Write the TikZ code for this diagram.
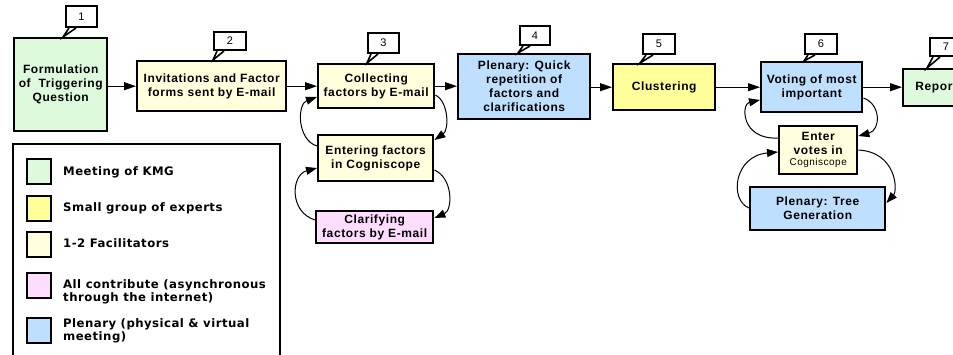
\documentclass[tikz,border=0pt]{standalone}
\usepackage{fontspec}
\setmainfont{Liberation Sans}
\newfontfamily\nfont[LetterSpace=5]{Liberation Sans}
\newfontfamily\legfont[LetterSpace=4]{DejaVu Sans}
\usetikzlibrary{arrows.meta,calc}
\definecolor{kmg}{HTML}{DDFADD}
\definecolor{expert}{HTML}{FFFF99}
\definecolor{facil}{HTML}{FFFFDD}
\definecolor{allc}{HTML}{FFDDFF}
\definecolor{plen}{HTML}{BFDFFF}
\tikzset{
  box/.style={draw, line width=2.4pt, inner sep=0pt, align=center, anchor=north west,
    font=\nfont\fontsize{12}{14}\selectfont\bfseries},
  arr/.style={line width=1pt, -{Triangle[length=12pt,width=8pt]}},
  carr/.style={line width=1pt, -{Triangle[length=11pt,width=8pt]}},
  callbox/.style={draw, fill=white, line width=2pt, inner sep=0pt, anchor=north west,
    font=\fontsize{11}{12}\selectfont},
  swatch/.style={draw, line width=1.6pt, minimum width=24pt, minimum height=25pt, inner sep=0pt, anchor=north west},
  legtext/.style={anchor=west, align=left, inner sep=0pt, font=\legfont\fontsize{11.7}{13.5}\selectfont\bfseries}
}
\newcommand\mycallout[6]{% name, x, y, w, h, num
  \node[callbox, minimum width=#4pt, minimum height=#5pt] (#1) at (#2,#3) {#6};
}
\newcommand\mytail[3]{% callout name, target node, dx
  \coordinate (#1tip) at ($(#2.north west)+(#3,0)$);
  \filldraw[fill=white, line width=1.6pt, line join=miter]
    ($(#1.south west)+(4,0)$) -- (#1tip) -- ($(#1.south west)+(11,0)$);
}
\begin{document}
\begin{tikzpicture}[x=1pt,y=-1pt]
\useasboundingbox (0,0) rectangle (953,354);

% main flow
\node[box, fill=kmg, minimum width=93pt, minimum height=93pt] (n1) at (13,37)
  {Formulation\\of~~Triggering\\Question};
\node[box, fill=facil, minimum width=149pt, minimum height=50pt] (n2) at (136,60)
  {Invitations and Factor\\forms sent by E-mail};
\node[box, fill=facil, minimum width=116pt, minimum height=44pt] (n3) at (317,63)
  {Collecting\\factors by E-mail};
\node[box, fill=plen, minimum width=132pt, minimum height=65pt] (n4) at (457,53)
  {Plenary: Quick\\repetition of\\factors and\\clarifications};
\node[box, fill=expert, minimum width=102pt, minimum height=46pt] (n5) at (612,63)
  {Clustering};
\node[box, fill=plen, minimum width=101pt, minimum height=50pt] (n6) at (760,61)
  {Voting of most\\important};
\node[box, fill=kmg, minimum width=66pt, minimum height=37pt] (n7) at (902,68)
  {Report};

% sub nodes
\node[box, fill=facil, minimum width=115pt, minimum height=46pt] (ent) at (317,134)
  {Entering factors\\in Cogniscope};
\node[box, fill=allc, minimum width=117pt, minimum height=32pt] (cla) at (315,210)
  {Clarifying\\factors by E-mail};
\node[box, fill=facil, minimum width=78pt, minimum height=48pt] (votes) at (778,125)
  {Enter\\votes in\\[-3pt]{\fontsize{10}{11}\selectfont\mdseries Cogniscope}};
\node[box, fill=plen, minimum width=135pt, minimum height=43pt] (tree) at (749,186)
  {Plenary: Tree\\Generation};

% callouts
\mycallout{c1}{65}{5}{31}{21}{1}
\mycallout{c2}{213}{31}{32}{18}{2}
\mycallout{c3}{367}{32}{31}{20}{3}
\mycallout{c4}{519}{25}{30}{19}{4}
\mycallout{c5}{642}{33}{32}{20}{5}
\mycallout{c6}{804}{33}{32}{20}{6}
\mycallout{c7}{929}{37}{32}{18}{7}
\mytail{c1}{n1}{50}
\mytail{c2}{n2}{77}
\mytail{c3}{n3}{50}
\mytail{c4}{n4}{61}
\mytail{c5}{n5}{28}
\mytail{c6}{n6}{44}
\mytail{c7}{n7}{25}

% main arrows
\draw[arr] (n1.east |- n2.west) -- (n2.west);
\draw[arr] (n2.east) -- (n3.west |- n2.east);
\draw[arr] (n3.east) -- (n4.west |- n3.east);
\draw[arr] (n4.east |- n5.west) -- (n5.west);
\draw[arr] (n5.east) -- (n6.west |- n5.east);
\draw[arr] (n6.east) -- (n7.west |- n6.east);

% loops
\draw[carr] ($(ent.north west)+(0,12)$) .. controls (297,140) and (297,104) .. ($(n3.north west)+(0,34)$);
\draw[carr] ($(n3.north east)+(0,32)$) .. controls (449,102) and (449,130) .. ($(ent.north east)+(0,6)$);
\draw[carr] ($(ent.north east)+(0,36)$) .. controls (453,178) and (453,210) .. ($(cla.north east)+(0,8)$);
\draw[carr] ($(cla.north west)+(0,10)$) .. controls (289,212) and (291,175) .. ($(ent.north west)+(0,34)$);

\draw[carr] ($(votes.north west)+(0,13)$) .. controls (741,140) and (741,104) .. ($(n6.north west)+(0,39)$);
\draw[carr] ($(n6.north east)+(0,37)$) .. controls (881,104) and (881,130) .. ($(votes.north east)+(0,11)$);
\draw[carr] ($(votes.north east)+(0,25)$) .. controls (896,152) and (898,190) .. ($(tree.north east)+(0,17)$);
\draw[carr] ($(tree.north west)+(0,22)$) .. controls (729,200) and (734,156) .. ($(votes.north west)+(0,27)$);

% legend
\draw[line width=1.4pt] (13,362) -- (13,144) -- (280,144) -- (280,362);
\node[swatch, fill=kmg] (s1) at (26,158) {};
\node[swatch, fill=expert] (s2) at (26,195) {};
\node[swatch, fill=facil] (s3) at (26,231) {};
\node[swatch, fill=allc] (s4) at (26,272) {};
\node[swatch, fill=plen] (s5) at (26,317) {};
\node[legtext] (t1) at (63,172) {Meeting of KMG};
\node[legtext] (t2) at (63,208) {Small group of experts};
\node[legtext] (t3) at (63,243) {1-2 Facilitators};
\node[legtext] (t4) at (63,292) {All contribute (asynchronous\\through the internet)};
\node[legtext] (t5) at (63,331) {Plenary (physical \& virtual\\meeting)};
\end{tikzpicture}
\end{document}
